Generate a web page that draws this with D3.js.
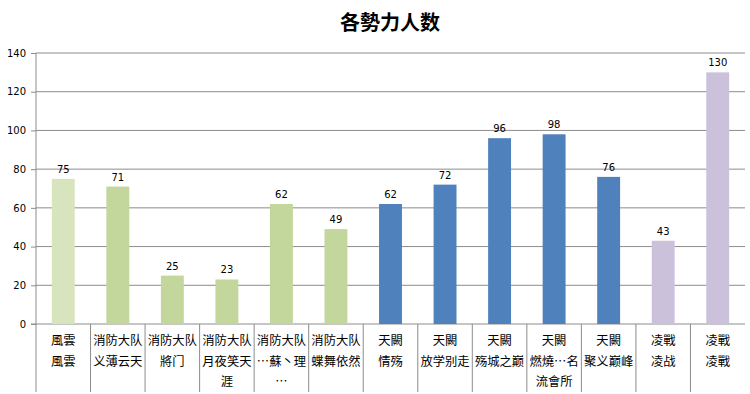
<!DOCTYPE html>
<html>
<head>
<meta charset="utf-8">
<script src="https://cdn.jsdelivr.net/npm/d3@7"></script>
<style>
body { margin:0; background:#fff; }
svg text { fill:#000; }
.tick text { font-family:"DejaVu Sans", sans-serif; font-size:10px; }
.title { font-family:"Noto Sans CJK SC", sans-serif; font-size:20px; font-weight:bold; }
.cat { font-family:"Noto Sans CJK SC", sans-serif; font-size:12.3px; }
.val { font-family:"DejaVu Sans", sans-serif; font-size:10px; }
</style>
</head>
<body>
<svg id="chart"></svg>
<script>
// data
var groups = ["風雲","消防大队","消防大队","消防大队","消防大队","消防大队","天闕","天闕","天闕","天闕","天闕","凌戰","凌戰"];
var names = [["風雲"],["义薄云天"],["將门"],["月夜笑天","涯"],["…蘇丶理","…"],["蝶舞依然"],
             ["情殇"],["放学别走"],["殇城之巅"],["燃燒…名","流會所"],["聚义巅峰"],["凌战"],["凌戰"]];
var values = [75,71,25,23,62,49,62,72,96,98,76,43,130];
var yTicks = [0,20,40,60,80,100,120,140];
var groupNames = ["風雲","消防大队","天闕","凌戰"];

var screen = {width:750,height:394}
var margins = {left:36,right:5,top:53,bottom:70}
var graph = {
    width:screen.width-margins.left-margins.right,
    height:screen.height-margins.top-margins.bottom
}

var svg = d3.select("#chart")
    .attr("width",screen.width)
    .attr("height",screen.height)

svg.append("text")
    .text("各勢力人数")
    .classed("title",true)
    .attr("text-anchor","middle")
    .attr("x",390)
    .attr("y",30)

var target = svg.append("g")
    .attr("transform","translate("+margins.left+","+margins.top+")");

var idx = d3.range(values.length)
var xScale = d3.scaleBand()
    .domain(idx)
    .range([0,graph.width])
    .paddingInner(0.58)
    .paddingOuter(0.29)
var band = graph.width/values.length

var yScale = d3.scaleLinear()
    .domain([0,140])
    .range([graph.height,0])

var colorScale = d3.scaleOrdinal()
    .domain(groupNames)
    .range(["#d7e4bd","#c3d69b","#4f81bd","#ccc1da"])

// gridlines
target.append("g")
    .selectAll("line")
    .data(yTicks.filter(function(t){return t>0}))
    .enter()
    .append("line")
    .attr("x1",0).attr("x2",graph.width)
    .attr("y1",function(t){return yScale(t)})
    .attr("y2",function(t){return yScale(t)})
    .attr("stroke","#8c8c8c")

// y axis
var yAxis = d3.axisLeft(yScale).tickValues(yTicks).tickSize(5).tickPadding(5)
var ya = target.append("g").call(yAxis)
ya.select(".domain").remove()
ya.selectAll(".tick line").attr("stroke","#8c8c8c")
target.append("line")
    .attr("x1",0).attr("x2",0)
    .attr("y1",0).attr("y2",graph.height+68)
    .attr("stroke","#8c8c8c")
target.append("line")
    .attr("x1",-5).attr("x2",graph.width)
    .attr("y1",graph.height).attr("y2",graph.height)
    .attr("stroke","#8c8c8c")

// bars
target.selectAll("rect.bar")
    .data(idx)
    .enter()
    .append("rect")
    .classed("bar",true)
    .attr("x",function(i){return xScale(i)})
    .attr("width",xScale.bandwidth())
    .attr("y",function(i){return yScale(values[i])})
    .attr("height",function(i){return graph.height-yScale(values[i])})
    .attr("fill",function(i){return colorScale(groups[i])})

target.selectAll("text.val")
    .data(idx)
    .enter()
    .append("text")
    .classed("val",true)
    .attr("text-anchor","middle")
    .attr("x",function(i){return xScale(i)+xScale.bandwidth()/2})
    .attr("y",function(i){return yScale(values[i])-6})
    .text(function(i){return values[i]})

// category separators
target.append("g")
    .selectAll("line")
    .data(d3.range(1,values.length))
    .enter()
    .append("line")
    .attr("x1",function(i){return i*band})
    .attr("x2",function(i){return i*band})
    .attr("y1",graph.height)
    .attr("y2",graph.height+68)
    .attr("stroke","#8c8c8c")

// category labels
var cats = target.selectAll("g.cat")
    .data(idx)
    .enter()
    .append("g")
    .attr("transform",function(i){return "translate("+(i*band+band/2)+","+graph.height+")"})
cats.each(function(i){
    var lines = [groups[i]].concat(names[i])
    d3.select(this).selectAll("text")
        .data(lines)
        .enter()
        .append("text")
        .classed("cat",true)
        .attr("text-anchor","middle")
        .attr("y",function(d,k){return 21+k*20.5})
        .text(function(d){return d})
})
</script>
</body>
</html>
